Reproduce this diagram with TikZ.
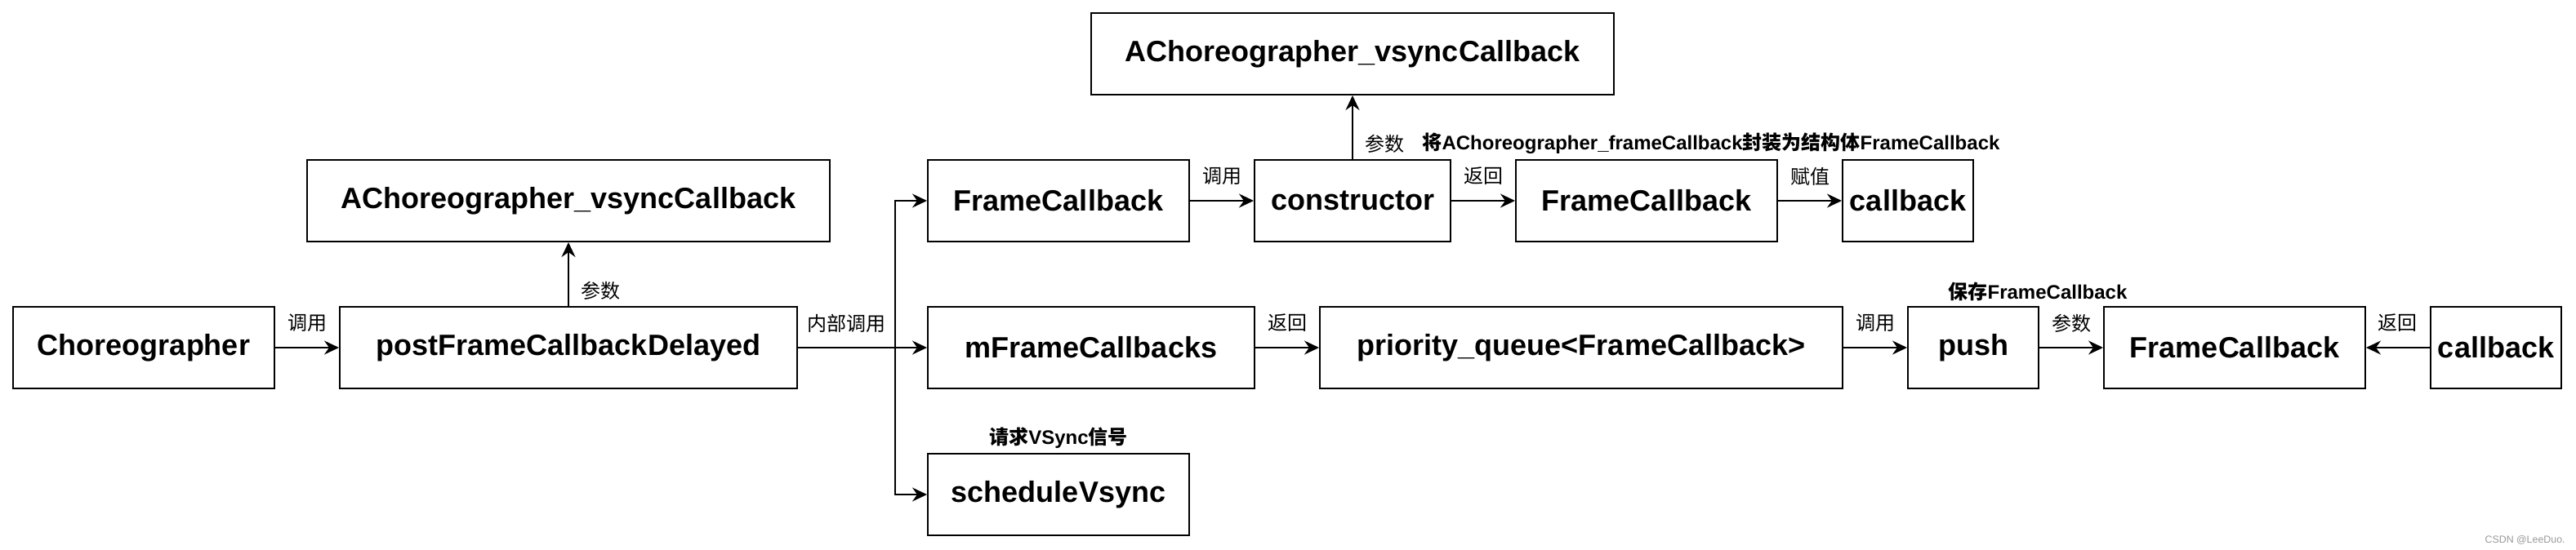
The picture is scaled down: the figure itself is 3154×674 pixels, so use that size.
\documentclass[tikz,border=0pt]{standalone}
\usepackage{fontspec}
\setmainfont{Liberation Sans}
\newfontfamily\cjk{Noto Sans CJK SC}
\usetikzlibrary{arrows.meta}
\begin{document}
\begin{tikzpicture}[x=0.5pt,y=-0.5pt,
  box/.style={draw, line width=1pt, minimum height=50pt, minimum width=#1, inner sep=0pt,
    font=\bfseries\fontsize{18}{22}\selectfont},
  arr/.style={line width=1pt, -{Stealth[length=9pt,width=8.5pt,inset=3pt]}},
  ln/.style={line width=1pt},
  lab/.style={inner sep=0pt, font=\cjk\fontsize{12}{14}\selectfont},
  labb/.style={inner sep=0pt, font=\bfseries\fontsize{12}{14}\selectfont},
  wm/.style={inner sep=0pt, text=black!40, font=\fontsize{6.2}{7}\selectfont}]
\useasboundingbox (0,0) rectangle (3154,674);
\fill[white] (0,0) rectangle (3154,674);

% boxes
\node[box=320pt] (ach2) at (1656,66)  {AChoreographer\_vsyncCallback};
\node[box=320pt] (ach1) at (696,246)  {AChoreographer\_vsyncCallback};
\node[box=160pt] (fc1)  at (1296,246) {FrameCallback};
\node[box=120pt] (cons) at (1656,246) {constructor};
\node[box=160pt] (fc2)  at (2016,246) {FrameCallback};
\node[box=80pt]  (cb1)  at (2336,246) {callback};
\node[box=160pt] (chor) at (176,426)  {Choreographer};
\node[box=280pt] (post) at (696,426)  {postFrameCallbackDelayed};
\node[box=200pt] (mfc)  at (1336,426) {mFrameCallbacks};
\node[box=320pt] (pq)   at (1936,426) {priority\_queue<FrameCallback>};
\node[box=80pt]  (push) at (2416,426) {push};
\node[box=160pt] (fc3)  at (2736,426) {FrameCallback};
\node[box=80pt]  (cb2)  at (3056,426) {callback};
\node[box=160pt] (sv)   at (1296,606) {scheduleVsync};

\coordinate (tr) at (1096,426);

% connectors
\draw[arr] (chor) -- (post);
\draw[arr] (post) -- (ach1);
\draw[ln]  (post) -- (tr);
\draw[arr] (tr) |- (fc1);
\draw[arr] (tr) -- (mfc);
\draw[arr] (tr) |- (sv);
\draw[arr] (fc1) -- (cons);
\draw[arr] (cons) -- (ach2);
\draw[arr] (cons) -- (fc2);
\draw[arr] (fc2) -- (cb1);
\draw[arr] (mfc) -- (pq);
\draw[arr] (pq) -- (push);
\draw[arr] (push) -- (fc3);
\draw[arr] (cb2) -- (fc3);

% labels
\node[lab] (l1)  at (376,396)  {调用};
\node[lab] (l2)  at (735,356)  {参数};
\node[lab] (l3)  at (1036,396) {内部调用};
\node[lab] (l4)  at (1496,216) {调用};
\node[lab] (l5)  at (1695,176) {参数};
\node[labb] (l6) at (2095,176) {{\cjk 将}AChoreographer\_frameCallback{\cjk 封装为结构体}FrameCallback};
\node[lab] (l7)  at (1816,216) {返回};
\node[lab] (l8)  at (2216,216) {赋值};
\node[lab] (l9)  at (1576,396) {返回};
\node[lab] (l10) at (2296,396) {调用};
\node[lab] (l11) at (2536,396) {参数};
\node[lab] (l12) at (2935,396) {返回};
\node[labb] (l13) at (2495,357) {{\cjk 保存}FrameCallback};
\node[labb] (l14) at (1296,537) {{\cjk 请求}VSync{\cjk 信号}};

\node[wm, anchor=east] (wm) at (3141,662) {CSDN @LeeDuo.};
\end{tikzpicture}
\end{document}
